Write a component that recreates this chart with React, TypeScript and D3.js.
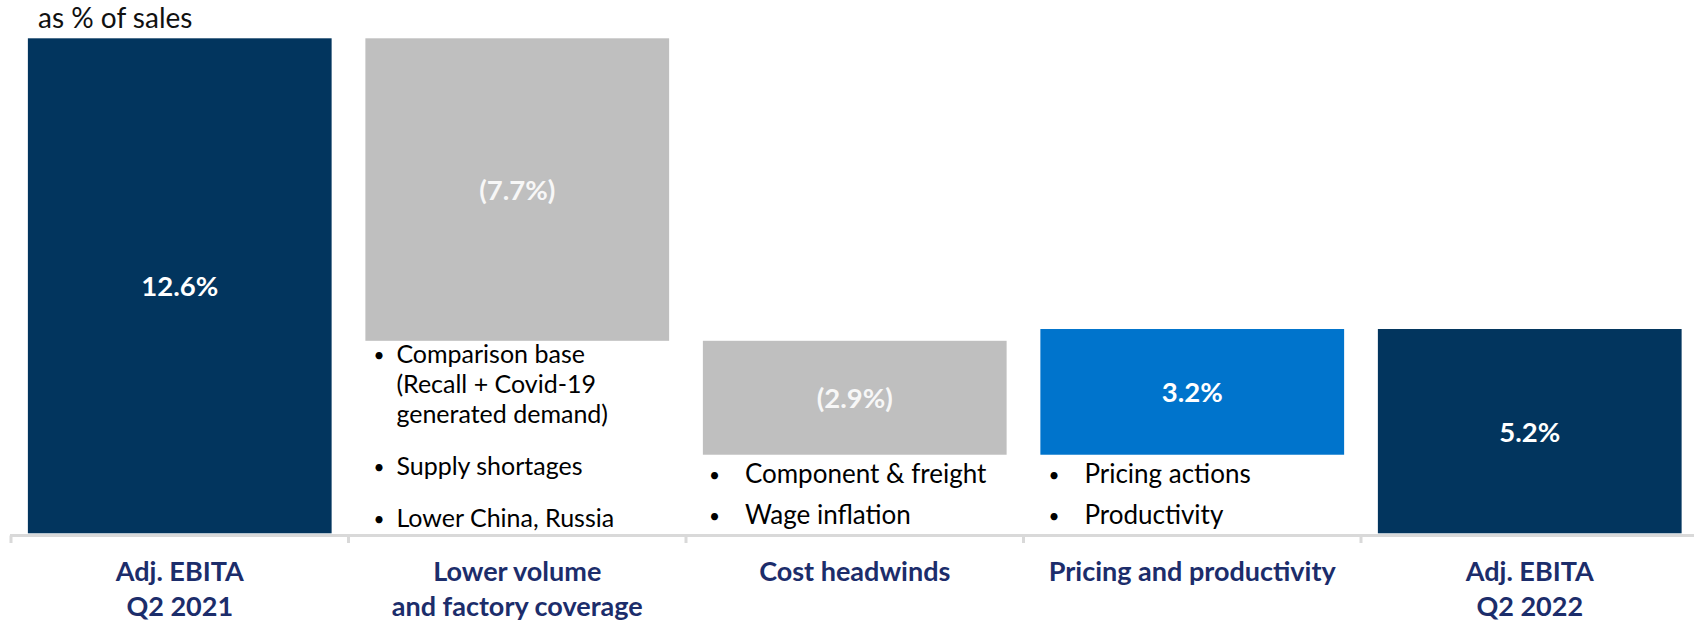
import React from "react";
import * as d3 from "d3";

// ---- data ----
const categoryLines: string[][] = [
  ["Adj. EBITA", "Q2 2021"],
  ["Lower volume", "and factory coverage"],
  ["Cost headwinds"],
  ["Pricing and productivity"],
  ["Adj. EBITA", "Q2 2022"],
];
const categories = categoryLines.map((l) => l.join(" "));
const values = [12.6, -7.7, -2.9, 3.2, 5.2];
const barTypes = ["total", "decrease", "decrease", "increase", "total"];
const valueLabels = ["12.6%", "(7.7%)", "(2.9%)", "3.2%", "5.2%"];
const notes: string[][][] = [
  [],
  [["Comparison base", "(Recall + Covid-19", "generated demand)"], ["Supply shortages"], ["Lower China, Russia"]],
  [["Component & freight"], ["Wage inflation"]],
  [["Pricing actions"], ["Productivity"]],
  [],
];
const yAxisTitle = "as % of sales";

// ---- styles ----
const W = 1694;
const H = 623;
const colors: Record<string, string> = {
  total: "#02355E",
  decrease: "#BFBFBF",
  increase: "#0074CC",
};
const labelColor = "#1C2D6B";
const FONT = "Lato, 'Open Sans', sans-serif";
const noteLayout = [
  null,
  { bulletDx: 8, textDx: 31, first: 22, line: 30, item: 52, size: 25 },
  { bulletDx: 6, textDx: 42, first: 28, line: 30, item: 41, size: 26 },
  { bulletDx: 8, textDx: 44, first: 28, line: 30, item: 41, size: 26 },
  null,
];

export default function App() {
  const x = d3.scaleBand<string>().domain(categories).range([11, 1698.5]).paddingInner(0.1).paddingOuter(0.05);
  const xb = d3.scaleBand<string>().domain(categories).range([11, 1698.5]).padding(0);
  const y = d3.scaleLinear().domain([0, 12.6]).range([533.3, 38.3]);

  let running = 0;
  const bars = values.map((v, i) => {
    let y0: number, y1: number;
    if (barTypes[i] === "total") {
      y0 = 0;
      y1 = v;
      running = v;
    } else {
      y0 = running;
      y1 = running + v;
      running = y1;
    }
    return { cat: categories[i], lo: Math.min(y0, y1), hi: Math.max(y0, y1), type: barTypes[i], label: valueLabels[i], i };
  });

  const axisY = 535.5;

  return (
    <svg width={W} height={H} style={{ position: "absolute", left: 0, top: 0, background: "#fff" }} fontFamily={FONT}>
      <text x={38} y={28} fontSize={28} fill="#111">{yAxisTitle}</text>

      {bars.map((b) => {
        const bx = x(b.cat)!;
        const bw = x.bandwidth();
        const top = y(b.hi);
        const bottom = y(b.lo);
        const layout = noteLayout[b.i];
        let cursor = bottom + (layout ? layout.first : 0);
        const noteEls: React.ReactNode[] = [];
        if (layout) {
          notes[b.i].forEach((item, k) => {
            if (k > 0) cursor += layout.item;
            noteEls.push(
              <text key={`b${k}`} x={bx + layout.bulletDx} y={cursor - 1} fontSize={19} fill="#000">•</text>
            );
            item.forEach((line, j) => {
              if (j > 0) cursor += layout.line;
              noteEls.push(
                <text key={`t${k}-${j}`} x={bx + layout.textDx} y={cursor} fontSize={layout.size} fill="#000">{line}</text>
              );
            });
          });
        }
        return (
          <g key={b.cat}>
            <rect x={bx} y={top} width={bw} height={bottom - top} fill={colors[b.type]} />
            <text
              x={bx + bw / 2}
              y={(top + bottom) / 2}
              textAnchor="middle"
              dominantBaseline="central"
              fontSize={27.5}
              fontWeight={700}
              fill={b.type === "decrease" ? "#F7F7F7" : "#fff"}
            >
              {b.label}
            </text>
            {noteEls}
          </g>
        );
      })}

      <line x1={10} x2={W} y1={axisY} y2={axisY} stroke="#D9D9D9" strokeWidth={3} />
      {categories.map((c) => (
        <line key={c} x1={xb(c)!} x2={xb(c)!} y1={axisY} y2={543} stroke="#D9D9D9" strokeWidth={3} />
      ))}

      {categories.map((c, i) => (
        <text key={c} textAnchor="middle" fontSize={27} fontWeight={700} fill={labelColor}>
          {categoryLines[i].map((line, j) => (
            <tspan key={j} x={xb(c)! + xb.bandwidth() / 2} y={581 + j * 35}>{line}</tspan>
          ))}
        </text>
      ))}
    </svg>
  );
}
